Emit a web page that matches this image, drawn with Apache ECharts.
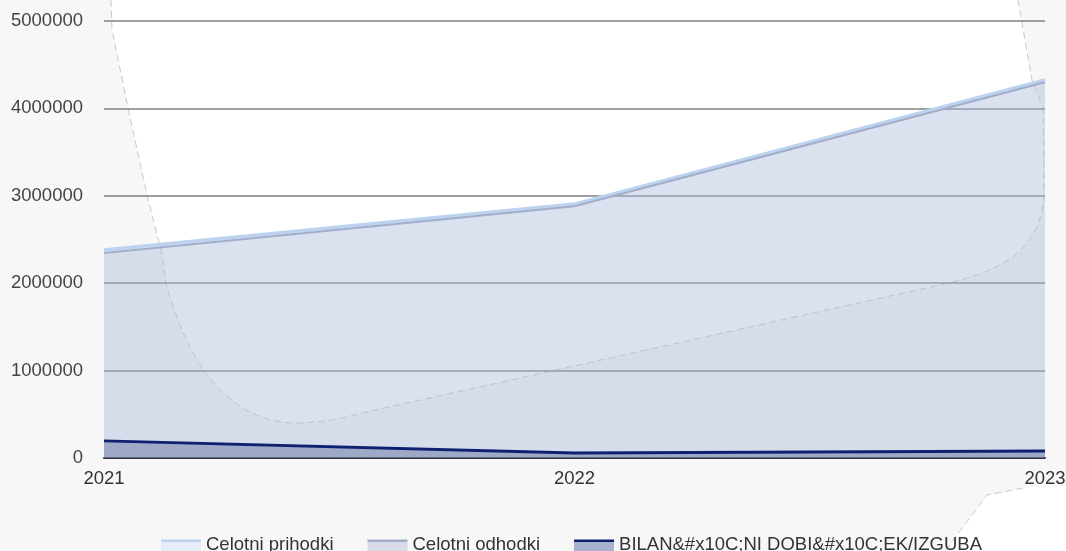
<!DOCTYPE html>
<html>
<head>
<meta charset="utf-8">
<script src="https://cdn.jsdelivr.net/npm/echarts@6/dist/echarts.min.js"></script>
<style>
html,body{margin:0;padding:0;background:#f7f7f7;}
#chart{width:1066px;height:551px;}
</style>
</head>
<body>
<div id="chart"></div>
<script>
var categories = ['2021', '2022', '2023'];
var seriesNames = ['Celotni prihodki', 'Celotni odhodki', 'BILAN&#x10C;NI DOBI&#x10C;EK/IZGUBA'];
var prihodki = [2380000, 2905000, 4325000];
var odhodki = [2345000, 2880000, 4300000];
var bilanca = [195000, 57000, 80000];
var yTicks = [0, 1000000, 2000000, 3000000, 4000000, 5000000];

var lineColors = ['#bcd3ef', '#a3adca', '#0e2171'];
var legendAreaColors = ['#e5edf8', '#d6dbe7', '#a9b1cf'];
var FONT = 'Liberation Sans, Arial, sans-serif';
var FS = 18.5;

// decorative background blob outline (pixel geometry, not data)
function cubic(p0, p1, p2, p3, n) {
  var out = [];
  for (var i = 1; i <= n; i++) {
    var t = i / n, u = 1 - t;
    out.push([
      u*u*u*p0[0] + 3*u*u*t*p1[0] + 3*u*t*t*p2[0] + t*t*t*p3[0],
      u*u*u*p0[1] + 3*u*u*t*p1[1] + 3*u*t*t*p2[1] + t*t*t*p3[1]
    ]);
  }
  return out;
}
var blob = [[111,0],[112,30],[128,108],[147,195],[161,250],[166,283]];
blob = blob.concat(cubic([166,283],[188,365],[230,423],[297,423],24));
blob = blob.concat(cubic([297,423],[330,423],[355,414],[380,409],8));
blob.push([917,290]);
blob = blob.concat(cubic([917,290],[985,276],[1040,262],[1044,195],16));
blob.push([1043,108],[1032,80],[1018,0]);

var chart = echarts.init(document.getElementById('chart'));

var lineIcon = 'path://M0,4 L40,4 L40,6.6 L0,6.6 Z M0,0 L0.01,0 L0,0.01 Z M0,18 L0.01,18 L0,18.01 Z';
var areaIcon = 'path://M0,6.6 L40,6.6 L40,18 L0,18 Z M0,0 L0.01,0 L0,0.01 Z';

function legendCfg(kind) {
  return {
    left: 156,
    top: 530,
    itemWidth: 40,
    itemHeight: 18,
    itemGap: 34,
    z: kind === 'line' ? 10 : 5,
    icon: kind === 'line' ? lineIcon : areaIcon,
    textStyle: {
      fontFamily: FONT,
      fontSize: FS,
      color: kind === 'line' ? 'rgba(0,0,0,0)' : '#333'
    },
    data: seriesNames.map(function (n, i) {
      return {
        name: n,
        itemStyle: { color: kind === 'line' ? lineColors[i] : legendAreaColors[i], opacity: 1 }
      };
    })
  };
}

chart.setOption({
  backgroundColor: '#f7f7f7',
  animation: false,
  graphic: [
    {
      type: 'polygon',
      z: -10,
      shape: { points: blob },
      style: { fill: '#ffffff' }
    },
    {
      type: 'polyline',
      z: -9,
      shape: { points: blob },
      style: { fill: null, stroke: '#c9c9c9', lineWidth: 1, lineDash: [7, 4] }
    },
    {
      type: 'polygon',
      z: -10,
      shape: { points: [[1066, 486], [1023, 488], [987, 495], [945, 551], [1066, 551]] },
      style: { fill: '#ffffff' }
    },
    {
      type: 'polyline',
      z: -9,
      shape: { points: [[1023, 488], [987, 495], [945, 551]] },
      style: { fill: null, stroke: '#c9c9c9', lineWidth: 1, lineDash: [7, 4] }
    }
  ],
  legend: [legendCfg('area'), legendCfg('line')],
  grid: { left: 104, right: 21, top: 21, bottom: 93, containLabel: false, outerBoundsMode: 'none' },
  xAxis: {
    type: 'category',
    data: categories,
    boundaryGap: false,
    axisLine: { lineStyle: { color: '#333', width: 2 } },
    axisTick: { show: false },
    axisLabel: { fontFamily: FONT, fontSize: FS, color: '#333', margin: 11 },
    splitLine: { show: false }
  },
  yAxis: {
    type: 'value',
    min: 0,
    max: 5000000,
    interval: 1000000,
    axisLine: { show: false },
    axisTick: { show: false },
    axisLabel: {
      fontFamily: FONT, fontSize: FS, color: '#444', margin: 21,
      formatter: function (v) { return yTicks.indexOf(v) >= 0 ? String(v) : ''; }
    },
    splitLine: { lineStyle: { color: '#808080', width: 1.5 } }
  },
  series: [
    {
      name: seriesNames[0],
      type: 'line',
      data: prihodki,
      symbol: 'none',
      z: 2,
      lineStyle: { color: lineColors[0], width: 3.5 },
      itemStyle: { color: lineColors[0] },
      areaStyle: { color: 'rgba(200,220,240,0.35)' }
    },
    {
      name: seriesNames[1],
      type: 'line',
      data: odhodki,
      symbol: 'none',
      z: 3,
      lineStyle: { color: lineColors[1], width: 2 },
      itemStyle: { color: lineColors[1] },
      areaStyle: { color: 'rgba(155,168,205,0.38)' }
    },
    {
      name: seriesNames[2],
      type: 'line',
      data: bilanca,
      symbol: 'none',
      z: 4,
      lineStyle: { color: lineColors[2], width: 2.8 },
      itemStyle: { color: lineColors[2] },
      areaStyle: { color: 'rgba(80,95,150,0.6)' }
    }
  ]
});
</script>
</body>
</html>
